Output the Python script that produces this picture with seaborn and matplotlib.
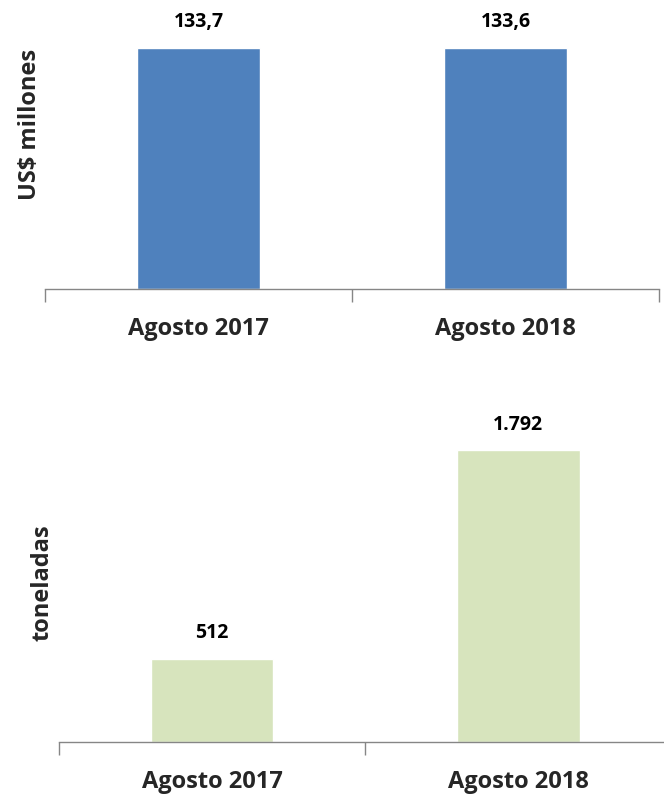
import matplotlib
matplotlib.use('Agg')
import matplotlib.pyplot as plt
import seaborn as sns

sns.set_style('white')
plt.rcParams['font.family'] = ['Open Sans', 'DejaVu Sans']

periodos = ['Agosto 2017', 'Agosto 2018']
valor_usd = [133.7, 133.6]
volumen_ton = [512, 1792]

azul = '#4F81BD'
verde = '#D7E4BD'
gris = '#868686'


def fmt_es(v, dec):
    # formato espanol: punto para miles, coma para decimales
    s = f'{v:,.{dec}f}'
    return s.replace(',', 'X').replace('.', ',').replace('X', '.')


fig = plt.figure(figsize=(6.64, 7.97), dpi=100)
ax1 = fig.add_axes([0.0678, 0.6374, 0.9247, 0.3626])
ax2 = fig.add_axes([0.0889, 0.069, 0.9224, 0.409])

paneles = [
    (ax1, valor_usd, azul, 'US$ millones', 160, [fmt_es(v, 1) for v in valor_usd]),
    (ax2, volumen_ton, verde, 'toneladas', 2000, [fmt_es(v, 0) for v in volumen_ton]),
]

for ax, vals, color, ylab, ymax, etiquetas in paneles:
    sns.barplot(x=periodos, y=vals, ax=ax, color=color, width=0.4, saturation=1)
    ax.set_xlim(-0.5, 1.5)
    ax.set_ylim(0, ymax)
    ax.bar_label(ax.containers[0], labels=etiquetas, padding=11,
                 fontsize=14, fontweight='bold', color='black')
    for s in ['top', 'right', 'left']:
        ax.spines[s].set_visible(False)
    ax.spines['bottom'].set_color(gris)
    ax.spines['bottom'].set_linewidth(1)
    ax.set_yticks([])
    ax.set_xticks([-0.5, 0.5, 1.5], minor=True)
    ax.tick_params(axis='x', which='minor', bottom=True, length=9, color=gris,
                   width=1, direction='out')
    ax.tick_params(axis='x', which='major', length=0, pad=20)
    for t in ax.get_xticklabels():
        t.set_fontsize(17)
        t.set_fontweight('bold')
    ax.set_ylabel(ylab, fontsize=17, fontweight='bold')

ax1.yaxis.set_label_coords(-0.005, 0.57)
ax2.yaxis.set_label_coords(-0.008, 0.49)

fig.savefig('out.png', dpi=100)
